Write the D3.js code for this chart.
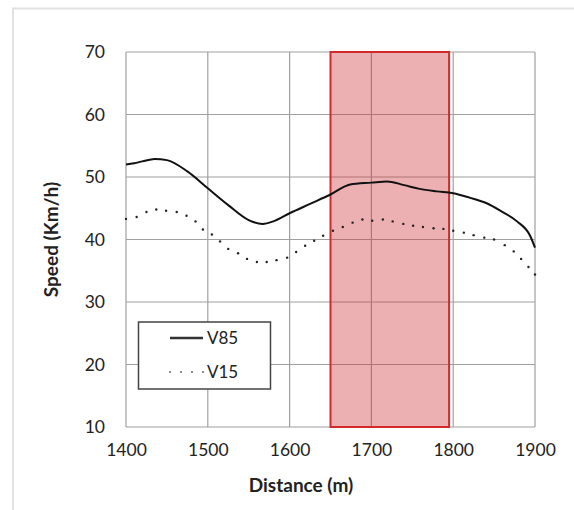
<!DOCTYPE html>
<html>
<head>
<meta charset="utf-8">
<script src="https://cdn.jsdelivr.net/npm/d3@7/dist/d3.min.js"></script>
<style>
  body { margin: 0; background: #fff; }
  svg text { font-family: Lato, "Open Sans", sans-serif; fill: #222; }
</style>
</head>
<body>
<div id="chart"></div>
<script>
// V85 speed profile (solid)
var v85Dist = [1400, 1410, 1420, 1435, 1450, 1475, 1500, 1525, 1550, 1567, 1580, 1600, 1625, 1650,
    1674, 1700, 1719, 1740, 1759, 1780, 1800, 1820, 1841, 1859, 1878, 1894, 1900];
var v85Speed = [52.0, 52.2, 52.5, 52.9, 52.7, 50.9, 48.2, 45.5, 43.1, 42.5, 42.9, 44.2, 45.7, 47.2,
    48.8, 49.1, 49.3, 48.7, 48.1, 47.7, 47.4, 46.7, 45.8, 44.5, 42.9, 40.6, 38.7];

// V15 speed profile (dotted)
var v15Dist = [1400, 1413, 1425, 1437, 1449, 1462, 1474, 1485, 1494, 1505, 1515, 1525, 1537, 1548,
    1560, 1572, 1584, 1597, 1608, 1619, 1630, 1641, 1653, 1665, 1677, 1689, 1701, 1714, 1726, 1739,
    1751, 1763, 1776, 1788, 1800, 1813, 1825, 1838, 1850, 1863, 1874, 1883, 1892, 1900];
var v15Speed = [43.3, 43.6, 44.4, 44.8, 44.6, 44.4, 43.8, 42.9, 41.6, 40.8, 39.7, 38.5, 37.8, 36.9,
    36.4, 36.4, 36.7, 37.1, 38.0, 39.0, 39.8, 40.6, 41.4, 42.0, 42.7, 43.2, 43.0, 43.2, 42.9, 42.5,
    42.2, 42.0, 41.8, 41.7, 41.4, 41.1, 40.7, 40.3, 40.0, 39.1, 38.1, 36.9, 35.6, 34.4];

var xTicks = [1400, 1500, 1600, 1700, 1800, 1900];
var yTicks = [10, 20, 30, 40, 50, 60, 70];
var zoneStart = 1650, zoneEnd = 1795;
var seriesNames = ["V85", "V15"];

var w = 574, h = 510;
var plotLeft = 126, plotRight = 535, plotTop = 52, plotBottom = 427;

var svg = d3.select("#chart").append("svg")
    .attr("width", w)
    .attr("height", h);

// outer frame (only top/left edges visible)
svg.append("path")
    .attr("d", "M13,510 V8.5 H574")
    .attr("fill", "none")
    .attr("stroke", "#e2e2e2")
    .attr("stroke-width", 2);

var x = d3.scaleLinear().domain([1400, 1900]).range([plotLeft, plotRight]);
var y = d3.scaleLinear().domain([10, 70]).range([plotBottom, plotTop]);

// grid
var grid = svg.append("g");
grid.selectAll("line.gx")
    .data(xTicks)
    .enter()
    .append("line")
    .attr("class", "gx")
    .attr("x1", function (d) { return x(d); })
    .attr("x2", function (d) { return x(d); })
    .attr("y1", plotTop)
    .attr("y2", plotBottom)
    .attr("stroke", "#a0a0a0")
    .attr("stroke-width", 1.2);
grid.selectAll("line.gy")
    .data(yTicks)
    .enter()
    .append("line")
    .attr("class", "gy")
    .attr("x1", plotLeft)
    .attr("x2", plotRight)
    .attr("y1", function (d) { return y(d); })
    .attr("y2", function (d) { return y(d); })
    .attr("stroke", "#a0a0a0")
    .attr("stroke-width", 1.2);

// highlighted zone
svg.append("rect")
    .attr("x", x(zoneStart))
    .attr("y", y(70))
    .attr("width", x(zoneEnd) - x(zoneStart))
    .attr("height", y(10) - y(70))
    .attr("fill", "rgba(205,45,52,0.38)")
    .attr("stroke", "#d02a2a")
    .attr("stroke-width", 2);

// axes labels
var xAxis = d3.axisBottom(x).tickValues(xTicks).tickSize(0).tickPadding(0).tickFormat(d3.format("d"));
var gx = svg.append("g").attr("transform", "translate(0," + 444 + ")").call(xAxis);
gx.select(".domain").remove();
gx.selectAll("text").attr("font-size", 17.5).attr("dy", "0.71em").attr("fill", "#222");

var yAxis = d3.axisLeft(y).tickValues(yTicks).tickSize(0).tickPadding(0);
var gy = svg.append("g").attr("transform", "translate(" + 105 + ",0)").call(yAxis);
gy.select(".domain").remove();
gy.selectAll("text").attr("font-size", 17.5).attr("fill", "#222");

svg.append("text")
    .attr("x", 301)
    .attr("y", 492)
    .attr("text-anchor", "middle")
    .attr("font-size", 19)
    .attr("font-weight", "bold")
    .text("Distance (m)");

svg.append("text")
    .attr("transform", "translate(58," + ((plotTop + plotBottom) / 2) + ") rotate(-90)")
    .attr("text-anchor", "middle")
    .attr("font-size", 19)
    .attr("font-weight", "bold")
    .text("Speed (Km/h)");

// V85 line
var v85 = v85Dist.map(function (d, i) { return [d, v85Speed[i]]; });
var line = d3.line()
    .x(function (d) { return x(d[0]); })
    .y(function (d) { return y(d[1]); })
    .curve(d3.curveMonotoneX);
svg.append("path")
    .datum(v85)
    .attr("d", line)
    .attr("fill", "none")
    .attr("stroke", "#111")
    .attr("stroke-width", 2);

// V15 dots
var v15 = v15Dist.map(function (d, i) { return [d, v15Speed[i]]; });
svg.append("g").selectAll("circle")
    .data(v15)
    .enter()
    .append("circle")
    .attr("cx", function (d) { return x(d[0]); })
    .attr("cy", function (d) { return y(d[1]); })
    .attr("r", 1.2)
    .attr("fill", "#222");

// legend
var lg = svg.append("g");
lg.append("rect")
    .attr("x", 138.5)
    .attr("y", 322)
    .attr("width", 132)
    .attr("height", 67)
    .attr("fill", "#fff")
    .attr("stroke", "#444")
    .attr("stroke-width", 1.5);
lg.append("line")
    .attr("x1", 170).attr("x2", 203)
    .attr("y1", 338).attr("y2", 338)
    .attr("stroke", "#333")
    .attr("stroke-width", 2.5);
lg.append("line")
    .attr("x1", 170).attr("x2", 204)
    .attr("y1", 372).attr("y2", 372)
    .attr("stroke", "#555")
    .attr("stroke-width", 1.8)
    .attr("stroke-linecap", "round")
    .attr("stroke-dasharray", "0,11");
lg.selectAll("text")
    .data(seriesNames)
    .enter()
    .append("text")
    .attr("x", 207)
    .attr("y", function (d, i) { return 338 + i * 34.5; })
    .attr("dy", "0.35em")
    .attr("font-size", 17)
    .text(function (d) { return d; });
</script>
</body>
</html>
